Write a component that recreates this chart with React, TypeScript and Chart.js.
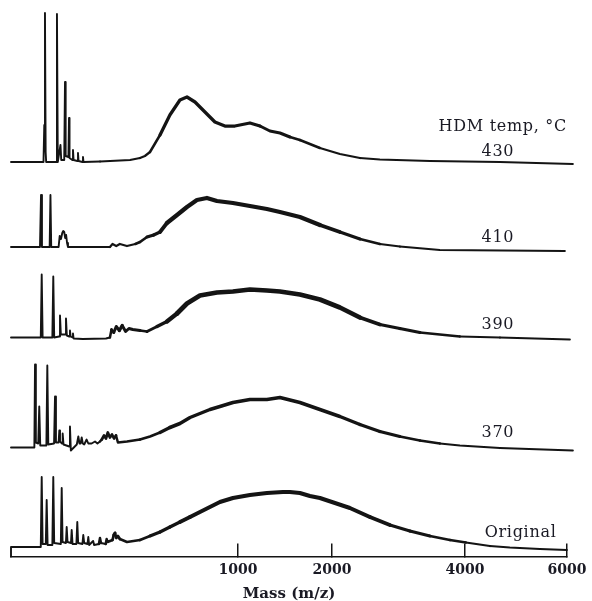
import React, { useEffect, useRef } from 'react';
import { Chart, registerables } from 'chart.js';

Chart.register(...registerables);

// x-axis tick values (m/z); the axis is linear in sqrt(m/z) (time-of-flight like)
const tickMasses = [1000, 2000, 4000, 6000];

// trace names (HDM temperature, °C)
const traceLabels = ['430', '410', '390', '370', 'Original'];

// vertical baseline level of each stacked trace (arbitrary intensity units)
const baselineLevels = [394.5, 309.5, 219, 109, 9.5];

// [mass (m/z), relative intensity above the trace baseline]
const trace430: [number, number][] = [
  [0, 0], [20.5, 0], [21.5, 37], [22.4, 149], [23.3, 10], [24, 0], [39.5, 0], [41, 148], [42.5, 0],
  [47.5, 17], [49, 2], [55, 2], [56.6, 80], [58, 6], [64, 5], [65.3, 44], [66.5, 4], [73, 2], [74.6, 12],
  [76, 2], [85.5, 1], [87.1, 9], [88.5, 1], [99, 0], [100.6, 5], [102, 0], [154, 0.5], [275, 2], [323, 4],
  [348, 6], [375, 10], [431, 27], [490, 47], [554, 62], [601, 65], [657, 60], [730, 50], [807, 40],
  [888, 36], [973, 36], [1108, 39], [1203, 36], [1301, 31], [1404, 29], [1510, 25], [1620, 22],
  [1852, 14], [2100, 8], [2363, 4], [2641, 2.5], [3406, 1], [4639, 0], [6127, -2],
];

const trace410: [number, number][] = [
  [0, 0], [16.3, 0], [17.5, 52], [18.6, 0], [29, 0], [30.2, 52], [31.4, 0], [44, 0], [46, 11], [48.5, 8],
  [51, 14], [53, 16], [55, 15], [57, 9], [59, 12], [61, 4], [63, 0], [190, 0], [200, 3], [215, 1],
  [230, 3], [261, 1], [300, 3], [323, 5], [359, 10], [395, 12], [431, 15], [472, 24], [535, 32],
  [601, 40], [671, 47], [745, 49], [823, 46], [956, 44], [1108, 41], [1271, 38], [1404, 35],
  [1620, 30], [1852, 22], [2100, 15], [2363, 8], [2641, 3], [2935, 0.5], [3570, -3], [5954, -4],
];

const trace390: [number, number][] = [
  [0, 0], [17.2, 0], [18.3, 63], [19.4, 0], [33.2, 0], [34.7, 61], [36.2, 0], [45, 1], [46.6, 22],
  [48.2, 3], [57, 3], [58.7, 19], [60.5, 2], [66, 1], [67.5, 7], [69, 1], [73.5, 0], [74.6, 4], [76, -1],
  [100, -1.5], [175, -1], [190, 0], [196, 8], [205, 5], [215, 11], [228, 7], [240, 12], [255, 6],
  [270, 9], [288, 8], [323, 7], [359, 6], [414, 11], [472, 16], [535, 24], [601, 34], [693, 42],
  [823, 45], [956, 46], [1108, 48], [1271, 47], [1404, 46], [1620, 43], [1852, 38], [2100, 30],
  [2363, 20], [2641, 13], [2935, 9], [3245, 5], [3570, 3], [3911, 1], [4639, 0], [6062, -2],
];

const trace370: [number, number][] = [
  [0, 0], [10.3, 0], [10.6, 2], [11.2, 83], [12, 5], [14.4, 4], [15.5, 41], [16.6, 2], [24.3, 2],
  [25.6, 82], [27, 3], [36, 4], [37.6, 51], [39.2, 5], [44, 5], [45.3, 17], [46.6, 6], [50.5, 4],
  [51.8, 14], [53.5, 3], [66, 1], [67.5, 21], [69.5, -3], [84, 3], [88, 11], [91, 4], [94, 4], [97, 10],
  [100, 4], [104, 3], [111, 8], [116, 4], [126, 4], [137, 6], [145, 4], [153.7, 6], [160, 8], [168, 12],
  [175, 9], [182, 15], [190, 10], [198, 13], [206, 9], [214, 12], [222, 5], [261, 6], [323, 8],
  [375, 11], [431, 15], [490, 20], [554, 24], [622, 30], [693, 34], [768, 38], [847, 41], [956, 45],
  [1108, 48], [1271, 48], [1404, 50], [1620, 45], [1852, 38], [2100, 31], [2363, 23], [2641, 16],
  [2935, 11], [3245, 7], [3570, 4], [3911, 2], [4639, -0.5], [6127, -3],
];

const traceOriginal: [number, number][] = [
  [0, -9.5], [0, 0], [13.1, 0], [17.2, 0], [18.3, 70], [19.4, 3], [23.5, 3], [24.7, 47], [26, 2],
  [33.2, 2], [34.7, 70], [36.2, 4], [48.2, 3], [49.9, 59], [51.6, 5], [58.5, 4], [60.2, 20], [62, 5],
  [69.8, 4], [71.5, 17], [73.5, 3], [83, 3], [85.3, 25], [87.5, 4], [99, 3], [101.4, 12], [104, 4],
  [113.5, 3], [116, 10], [118.5, 2], [131, 6], [134, 2], [150, 3], [153.7, 9], [157, 4], [174, 3],
  [177.6, 8], [181, 5], [200, 7], [205, 12], [210, 14], [215, 9], [222, 11], [230, 8], [261, 5],
  [323, 7], [375, 11], [431, 15], [490, 20], [554, 25], [622, 30], [693, 35], [768, 40], [847, 45],
  [956, 49], [1108, 52], [1271, 54], [1435, 55], [1510, 55], [1620, 54], [1734, 51], [1852, 49],
  [1999, 45], [2229, 39], [2500, 30], [2786, 22], [3088, 16], [3406, 11], [3739, 7], [4016, 4.5],
  [4451, 1], [4830, -0.5], [5429, -2], [5997, -3],
];

const traces = [trace430, trace410, trace390, trace370, traceOriginal];

const INK = '#141414';
const TEXT = '#1a1a24';

export default function App() {
  const ref = useRef<HTMLCanvasElement>(null);

  useEffect(() => {
    if (!ref.current) return;

    // style: noisy broad-hump regions get a thicker stroke that grows with signal
    // [noise starts at mass, max width, intensity for full width]
    const noiseStyle: [number, number, number][] = [
      [130, 3.2, 40],
      [190, 4.3, 28],
      [190, 4.7, 28],
      [150, 3.6, 28],
      [150, 3.9, 32],
    ];
    const BASE_W = 1.9;

    const datasets = traces.map((tr, i) => ({
      label: traceLabels[i],
      data: tr.map(([m, v]) => ({ x: Math.sqrt(m), y: baselineLevels[i] + v })),
      borderColor: INK,
      borderWidth: BASE_W,
      pointRadius: 0,
      tension: 0,
      fill: false,
      clip: false as any,
      borderJoinStyle: 'round' as const,
      borderCapStyle: 'round' as const,
      segment: {
        borderWidth: (ctx: any) => {
          const m = ctx.p0.parsed.x * ctx.p0.parsed.x;
          const [from, wmax, href] = noiseStyle[i];
          if (m < from) return BASE_W;
          const h = (ctx.p0.parsed.y + ctx.p1.parsed.y) / 2 - baselineLevels[i];
          const f = Math.max(0, Math.min(1, (h + 3) / href));
          return Math.round((BASE_W + (wmax - BASE_W) * f) * 4) / 4;
        },
      },
    }));

    const labelPlugin = {
      id: 'traceLabels',
      afterDatasetsDraw(chart: any) {
        const { ctx, scales } = chart;
        const xs = scales.x;
        const ys = scales.y;
        const items: { text: string; m: number; v: number; align: CanvasTextAlign }[] = [
          { text: 'HDM temp, °C', m: 6000, v: 429.5, align: 'right' },
          { text: traceLabels[0], m: 4600, v: 405, align: 'center' },
          { text: traceLabels[1], m: 4600, v: 319, align: 'center' },
          { text: traceLabels[2], m: 4600, v: 231.5, align: 'center' },
          { text: traceLabels[3], m: 4600, v: 124, align: 'center' },
          { text: traceLabels[4], m: 5040, v: 23.5, align: 'center' },
        ];
        ctx.save();
        ctx.fillStyle = TEXT;
        ctx.font = '16px "DejaVu Serif"';
        ctx.textBaseline = 'middle';
        (ctx as any).letterSpacing = '0.7px';
        for (const it of items) {
          ctx.textAlign = it.align;
          ctx.fillText(it.text, xs.getPixelForValue(Math.sqrt(it.m)), ys.getPixelForValue(it.v));
        }
        ctx.restore();
      },
    };

    const chart = new Chart(ref.current, {
      type: 'line',
      data: { datasets: datasets as any },
      options: {
        animation: false,
        responsive: false,
        devicePixelRatio: 1,
        layout: { padding: { left: 11, right: 25, top: 6, bottom: 0 } },
        plugins: { legend: { display: false }, tooltip: { enabled: false } },
        scales: {
          x: {
            type: 'linear',
            min: 0,
            max: Math.sqrt(6000),
            afterBuildTicks: (scale: any) => {
              scale.ticks = tickMasses.map((m) => ({ value: Math.sqrt(m) }));
            },
            afterFit: (scale: any) => {
              scale.height = 44.5;
              scale.paddingLeft = 0;
              scale.paddingRight = 0;
            },
            ticks: {
              callback: (v: any) => String(Math.round((Number(v) * Number(v)) / 10) * 10),
              font: { family: '"DejaVu Serif"', size: 14, weight: 'bold' },
              color: TEXT,
              padding: 18,
              maxRotation: 0,
              autoSkip: false,
            },
            grid: {
              display: true,
              drawOnChartArea: false,
              drawTicks: true,
              tickLength: -13,
              color: INK,
              lineWidth: 1.5,
            },
            border: { display: true, color: INK, width: 1.6 },
            title: {
              display: true,
              text: 'Mass (m/z)',
              color: TEXT,
              font: { family: '"DejaVu Serif"', size: 15, weight: 'bold' },
              padding: { top: 0, bottom: -2 },
            },
          },
          y: {
            type: 'linear',
            display: false,
            min: 0,
            max: 550.5,
          },
        },
      },
      plugins: [labelPlugin],
    });

    return () => chart.destroy();
  }, []);

  return (
    <canvas
      ref={ref}
      width={592}
      height={601}
      style={{ position: 'fixed', left: 0, top: 0, display: 'block', background: '#fff' }}
    />
  );
}
